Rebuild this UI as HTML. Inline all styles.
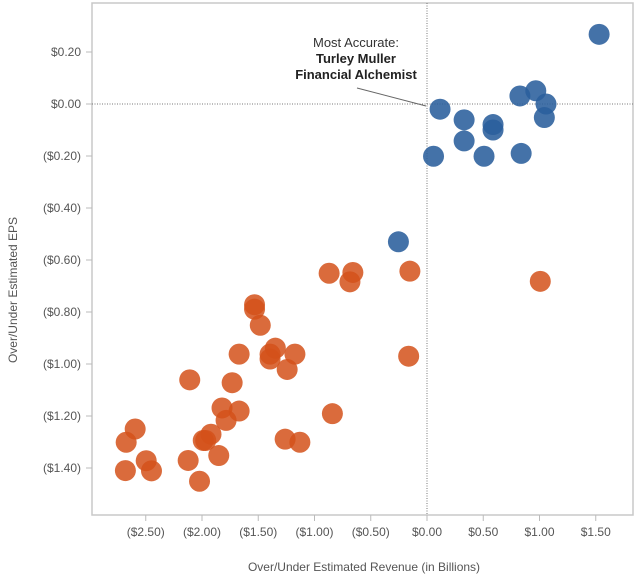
<!DOCTYPE html>
<html><head><meta charset="utf-8"><style>
html,body{margin:0;padding:0;background:#fff;}
svg text{font-family:"Liberation Sans",Arial,sans-serif;}
</style></head><body>
<svg id="chart" width="640" height="579" xmlns="http://www.w3.org/2000/svg"></svg>
<script>
const xTicks=[-2.5,-2.0,-1.5,-1.0,-0.5,0,0.5,1.0,1.5];
const xTickLabels=["($2.50)","($2.00)","($1.50)","($1.00)","($0.50)","$0.00","$0.50","$1.00","$1.50"];
const yTicks=[0.2,0,-0.2,-0.4,-0.6,-0.8,-1.0,-1.2,-1.4];
const yTickLabels=["$0.20","$0.00","($0.20)","($0.40)","($0.60)","($0.80)","($1.00)","($1.20)","($1.40)"];
const blueRevenue=[1.53,0.116,0.33,0.587,0.587,0.33,0.058,0.507,0.837,0.826,0.967,1.058,1.043,-0.254];
const blueEps=[0.268,-0.02,-0.061,-0.079,-0.10,-0.142,-0.201,-0.201,-0.19,0.031,0.051,0,-0.052,-0.53];
const orangeRevenue=[1.007,-0.152,-0.87,-0.659,-0.685,-1.533,-1.533,-1.482,-0.163,-1.67,-1.348,-1.395,-1.395,-1.174,-1.243,-2.109,-1.732,-1.822,-1.67,-1.786,-0.841,-1.92,-1.989,-1.967,-1.851,-1.261,-1.13,-2.594,-2.674,-2.496,-2.449,-2.681,-2.123,-2.022];
const orangeEps=[-0.682,-0.643,-0.651,-0.648,-0.684,-0.772,-0.789,-0.851,-0.970,-0.962,-0.939,-0.962,-0.981,-0.962,-1.021,-1.061,-1.072,-1.169,-1.181,-1.217,-1.191,-1.27,-1.294,-1.294,-1.352,-1.289,-1.301,-1.25,-1.301,-1.372,-1.411,-1.41,-1.371,-1.451];

const NS="http://www.w3.org/2000/svg";
const svg=document.getElementById('chart');
const L=92,R=633,T=3,B=515;
function xs(v){return 427+112.5*v;}
function ys(v){return 104-260*v;}
function mk(tag,attrs,parent){const e=document.createElementNS(NS,tag);for(const k in attrs)e.setAttribute(k,attrs[k]);(parent||svg).appendChild(e);return e;}

let frame=mk('rect',{x:L,y:T,width:R-L,height:B-T,fill:'none',stroke:'#c8c8c8','stroke-width':1.5});



let zx=mk('line',{x1:xs(0),x2:xs(0),y1:T,y2:B,stroke:'#777','stroke-width':1,'stroke-dasharray':'1,1.5'});


let zy=mk('line',{x1:L,x2:R,y1:ys(0),y2:ys(0),stroke:'#777','stroke-width':1,'stroke-dasharray':'1,1.5'});



xTicks.forEach((v,i)=>{
  let t=mk('line',{x1:xs(v),x2:xs(v),y1:B,y2:B+6,stroke:'#bbb'});
  
  
  let l=mk('text',{x:xs(v),y:B+21,'text-anchor':'middle','font-size':12,fill:'#555'});
  l.textContent=xTickLabels[i];
  
  
});
yTicks.forEach((v,i)=>{
  let t=mk('line',{x1:L-6,x2:L,y1:ys(v),y2:ys(v),stroke:'#bbb'});
  
  
  let l=mk('text',{x:81,y:ys(v)+4,'text-anchor':'end','font-size':12,fill:'#555'});
  l.textContent=yTickLabels[i];
  
  
});

let xt=mk('text',{x:364,y:571,'text-anchor':'middle','font-size':12,fill:'#555'});
xt.textContent='Over/Under Estimated Revenue (in Billions)';


let yt=mk('text',{x:17,y:290,'text-anchor':'middle','font-size':12,fill:'#555',transform:'rotate(-90 17 290)'});
yt.textContent='Over/Under Estimated EPS';



orangeRevenue.forEach((v,i)=>{
  let c=mk('circle',{cx:xs(v),cy:ys(orangeEps[i]),r:10.5,fill:'#d4511a','fill-opacity':0.85});
  
  
});
blueRevenue.forEach((v,i)=>{
  let c=mk('circle',{cx:xs(v),cy:ys(blueEps[i]),r:10.5,fill:'#2a5e9c','fill-opacity':0.88});
  
  
});

let ln=mk('line',{x1:357,y1:88,x2:426,y2:106,stroke:'#666','stroke-width':1});


let a1=mk('text',{x:356,y:47,'text-anchor':'middle','font-size':13,fill:'#333'});
a1.textContent='Most Accurate:';


let a2=mk('text',{x:356,y:63,'text-anchor':'middle','font-size':13,'font-weight':'bold',fill:'#222'});
a2.textContent='Turley Muller';


let a3=mk('text',{x:356,y:79,'text-anchor':'middle','font-size':13,'font-weight':'bold',fill:'#222'});
a3.textContent='Financial Alchemist';


</script>
</body></html>
